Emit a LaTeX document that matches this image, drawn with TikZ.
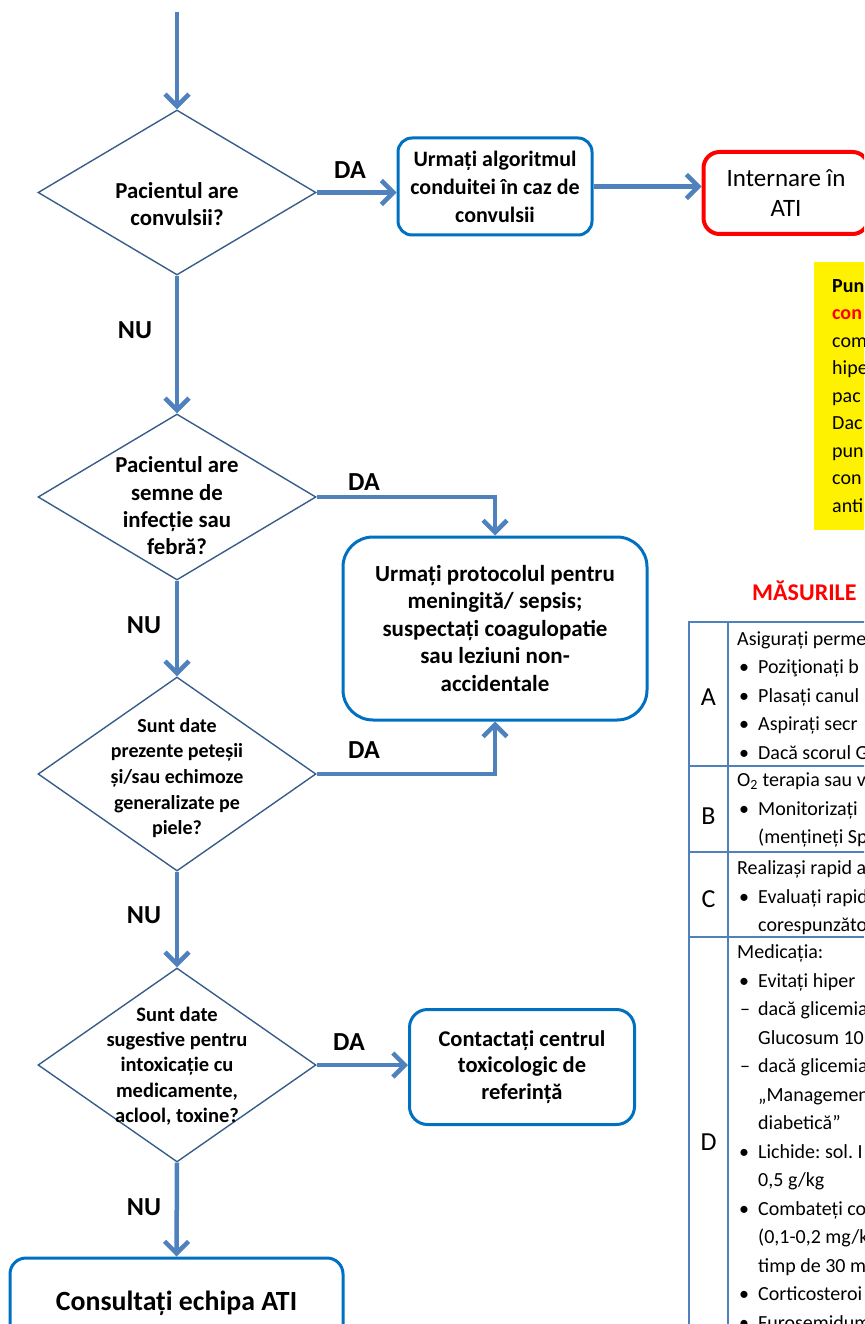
\documentclass[tikz,border=0pt]{standalone}
\usepackage{fontspec}
\setmainfont{Carlito}
\usetikzlibrary{arrows.meta,shapes.geometric}
\definecolor{flowblue}{RGB}{79,129,189}
\definecolor{diaedge}{RGB}{56,93,138}
\definecolor{boxblue}{RGB}{0,112,192}
\definecolor{tabline}{RGB}{79,129,189}
\newcommand\setfs[2]{\fontsize{#1}{#2}\selectfont}
\newcommand\tbul{\makebox[21pt][l]{\hspace{2pt}•}}
\newcommand\tdsh{\makebox[21pt][l]{\hspace{3pt}–}}
\newcommand\tind{\hspace*{21pt}}
\newcommand\fstrut{\rule{0pt}{17pt}}
\frenchspacing
\begin{document}
\begin{tikzpicture}[x=1pt,y=-1pt,
  flow/.style={draw=flowblue, line width=4.5pt, -{Straight Barb[length=12pt,width=24pt]}},
  decision/.style={diamond, draw=diaedge, line width=1.4pt, inner sep=0pt, minimum width=278pt},
  dtext/.style={align=center, inner sep=0pt},
  proc/.style={draw=boxblue, line width=3pt, align=center, inner sep=0pt},
  lbl/.style={font=\setfs{26}{30}\bfseries, inner sep=0pt},
  cell/.style={anchor=north west, inner sep=0pt, align=left, font=\setfs{20}{28.5}},
  letter/.style={font=\setfs{26}{30}, inner sep=0pt, text depth=0pt}]
\useasboundingbox (0,0) rectangle (864,1324);
\clip (0,0) rectangle (864,1324);

% decisions
\node[decision, minimum height=165pt] (d1) at (177,192.5) {};
\node[dtext, font=\setfs{22.8}{27.5}\bfseries] (d1t) at (177,204) {Pacientul are\\convulsii?};
\node[decision, minimum height=166pt] (d2) at (177,497) {};
\node[dtext, font=\setfs{22.8}{27.3}\bfseries] (d2t) at (177,506) {Pacientul are\\semne de\\infecție sau\\febră?};
\node[decision, minimum height=194pt] (d3) at (177,774) {};
\node[dtext, font=\setfs{20}{25.7}\bfseries] (d3t) at (177,778) {Sunt date\\prezente peteșii\\și/sau echimoze\\generalizate pe\\piele?};
\node[decision, minimum height=194pt] (d4) at (177,1065) {};
\node[dtext, font=\setfs{20.5}{25.2}\bfseries] (d4t) at (177,1066) {Sunt date\\sugestive pentru\\intoxicație cu\\medicamente,\\aclool, toxine?};

% process boxes
\node[proc, rounded corners=14pt, minimum width=194pt, minimum height=97pt, font=\setfs{22}{28}\bfseries] (b1) at (495,186.5) {Urmați algoritmul\\conduitei în caz de\\convulsii};
\node[draw=red, line width=4pt, rounded corners=16pt, minimum width=165pt, minimum height=82pt, align=center, inner sep=0pt, font=\setfs{25}{30}] (ati) at (786,193) {Internare în\\ATI};
\node[proc, rounded corners=30pt, minimum width=304pt, minimum height=183pt, font=\setfs{23}{27.5}\bfseries] (b2) at (495,628.5) {Urmați protocolul pentru\\meningită/ sepsis;\\suspectați coagulopatie\\sau leziuni non-\\accidentale};
\node[proc, rounded corners=18pt, minimum width=225pt, minimum height=115pt, font=\setfs{22.5}{26.5}\bfseries] (b3) at (522,1067) {Contactați centrul\\toxicologic de\\referință};
\node[proc, rounded corners=16pt, minimum width=333pt, minimum height=90pt, font=\setfs{27.8}{32}\bfseries] (b4) at (176.5,1303) {Consultați echipa ATI};

% connectors
\coordinate (start) at (177,12);
\draw[flow] (start) -- (d1.north);
\draw[flow] (d1.east) -- (b1.west |- d1.east);
\draw[flow] (b1.east) -- (ati.west |- b1.east);
\draw[flow] (d1.south) -- (d2.north);
\draw[flow] (d2.east) -| (b2.north);
\draw[flow] (d2.south) -- (d3.north);
\draw[flow] (d3.east) -| (b2.south);
\draw[flow] (d3.south) -- (d4.north);
\draw[flow] (d4.east) -- (b3.west |- d4.east);
\draw[flow] (d4.south) -- (b4.north);

% labels
\node[lbl] (da1) at (350,170) {DA};
\node[lbl] (da2) at (364,482) {DA};
\node[lbl] (da3) at (364,750) {DA};
\node[lbl] (da4) at (349,1042) {DA};
\node[lbl] (nu1) at (135,330) {NU};
\node[lbl] (nu2) at (144,625) {NU};
\node[lbl] (nu3) at (144,915) {NU};
\node[lbl] (nu4) at (144,1207) {NU};

% yellow note
\node[fill=yellow, inner sep=0pt, minimum width=100pt, minimum height=268pt, anchor=north west] (note) at (814,262) {};
\node[anchor=north west, inner sep=0pt, align=left, font=\setfs{20}{27.5}] (notetxt) at (832,275)
  {\fstrut\textbf{Pun}\\\textcolor{red}{\textbf{con}}\\com\\hipe\\pac\\Dac\\pun\\con\\anti};

% table
\node[anchor=base west, inner sep=0pt, text=red, font=\setfs{24}{28}\bfseries] (mas) at (752,600) {MĂSURILE};
\draw[tabline, line width=2pt] (689,1340) -- (689,622) -- (900,622);
\draw[tabline, line width=2pt] (728,622) -- (728,1340);
\draw[tabline, line width=2pt] (689,766) -- (900,766);
\draw[tabline, line width=2pt] (689,852) -- (900,852);
\draw[tabline, line width=2pt] (689,937) -- (900,937);
\node[letter] (la) at (708.5,697) {A};
\node[letter] (lb) at (708.5,816) {B};
\node[letter] (lc) at (708.5,899) {C};
\node[letter] (ld) at (708.5,1142) {D};
\node[cell] (ta) at (737,628) {\fstrut Asigurați perme\\\tbul Poziţionați b\\\tbul Plasați canul\\\tbul Aspirați secr\\\tbul Dacă scorul G};
\node[cell] (tb) at (737,769.5) {\fstrut O\textsubscript{2} terapia sau v\\\tbul Monitorizați\\\tind (mențineți Sp};
\node[cell] (tc) at (737,857.5) {\fstrut Realizași rapid a\\\tbul Evaluați rapid\\\tind corespunzăto};
\node[cell] (td) at (737,941.5) {\fstrut Medicația:\\\tbul Evitați hiper\\\tdsh dacă glicemia\\\tind Glucosum 10\\\tdsh dacă glicemia\\\tind „Managemen\\\tind diabetică”\\\tbul Lichide: sol. I\\\tind 0,5 g/kg\\\tbul Combateți co\\\tind (0,1-0,2 mg/k\\\tind timp de 30 m\\\tbul Corticosteroi\\\tbul Furosemidum};
\end{tikzpicture}
\end{document}
